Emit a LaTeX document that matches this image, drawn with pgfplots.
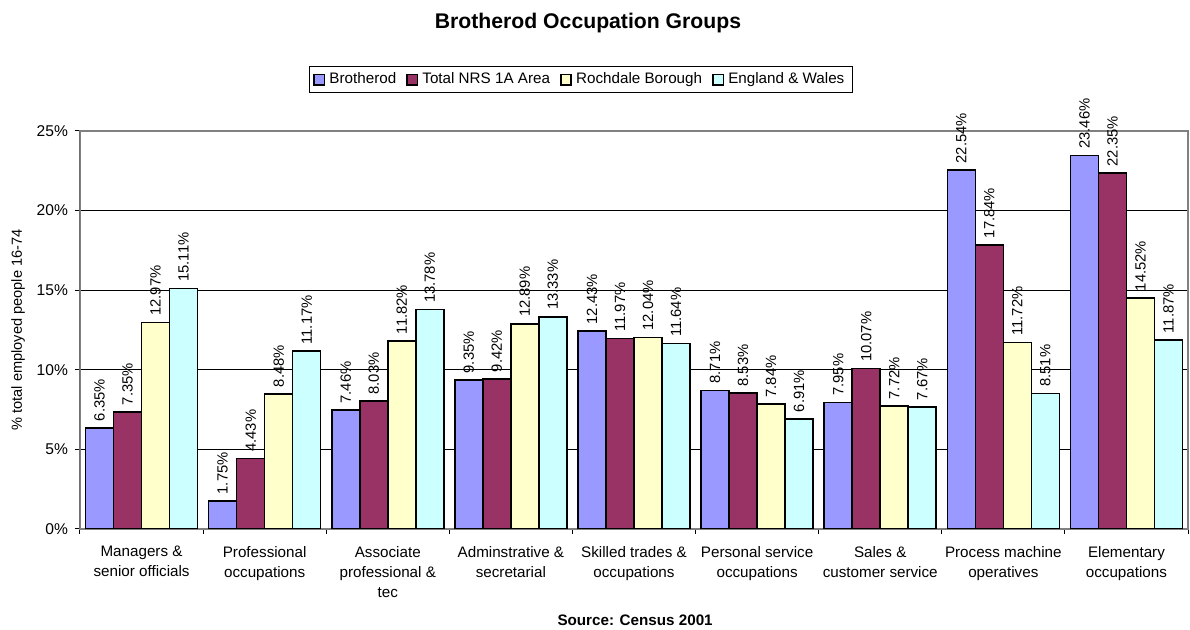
\documentclass[border=0pt]{standalone}
\usepackage{pgfplots}
\pgfplotsset{compat=1.18}
\usepackage{fontspec}
\setmainfont{Liberation Sans}
\definecolor{cA}{HTML}{9999FF}
\definecolor{cB}{HTML}{993366}
\definecolor{cC}{HTML}{FFFFCC}
\definecolor{cD}{HTML}{CCFFFF}
\begin{document}
\begin{tikzpicture}
\begin{axis}[
  scale only axis, width=554pt, height=199pt,
  ybar=0pt, bar width=14pt,
  xmin=-0.5, xmax=8.5, ymin=0, ymax=25,
  xtick={-0.5,0.5,1.5,2.5,3.5,4.5,5.5,6.5,7.5,8.5},
  x tick label as interval,
  xticklabels={Managers \&\\senior officials, Professional\\occupations, Associate\\professional \&\\tec, Adminstrative \&\\secretarial, Skilled trades \&\\occupations, Personal service\\occupations, Sales \&\\customer service, Process machine\\operatives, Elementary\\occupations},
  xticklabel style={align=center, font=\fontsize{7.6}{10}\selectfont, yshift=-2.5pt},
  ytick={0,5,10,15,20,25}, yticklabels={0\%,5\%,10\%,15\%,20\%,25\%},
  yticklabel style={font=\fontsize{7.8}{9}\selectfont},
  tick align=outside, major tick length=2.5pt,
  xtick pos=left, ytick pos=left,
  ymajorgrids, grid style={black, line width=0.5pt},
  axis line style={gray, line width=0.6pt},
  tick style={black, line width=0.5pt},
  /pgf/number format/assume math mode=true,
  nodes near coords={\pgfmathprintnumber[fixed,fixed zerofill,precision=2]{\pgfplotspointmeta}\%},
  every node near coord/.append style={rotate=90, anchor=west, font=\fontsize{7.4}{8}\selectfont, inner sep=3pt, text=black},
  title={Brotherod Occupation Groups},
  title style={at={(0.4585,1.241)}, anchor=center, font=\bfseries\fontsize{10.6}{12}\selectfont},
  ylabel={\% total employed people 16-74},
  ylabel style={at={(rel axis cs:-0.0559,0.5)}, anchor=center, font=\fontsize{7.3}{8}\selectfont},
  xlabel={Source: Census 2001},
  xlabel style={at={(rel axis cs:0.501,-0.2286)}, anchor=center, font=\bfseries\fontsize{7.6}{9}\selectfont},
  legend columns=4,
  legend style={at={(0.452,1.163)}, anchor=north, draw=black, line width=0.5pt, font=\fontsize{7.6}{8}\selectfont, inner xsep=2pt, inner ysep=1pt, /tikz/every even column/.append style={column sep=3pt}},
  legend image code/.code={\draw[#1, line width=0.9pt] (0pt,-2.6pt) rectangle (5.2pt,2.6pt);},
]
\addplot[fill=cA, draw=black, line width=0.8pt] coordinates {(0,6.35) (1,1.75) (2,7.46) (3,9.35) (4,12.43) (5,8.71) (6,7.95) (7,22.54) (8,23.46)};
\addplot[fill=cB, draw=black, line width=0.8pt] coordinates {(0,7.35) (1,4.43) (2,8.03) (3,9.42) (4,11.97) (5,8.53) (6,10.07) (7,17.84) (8,22.35)};
\addplot[fill=cC, draw=black, line width=0.8pt] coordinates {(0,12.97) (1,8.48) (2,11.82) (3,12.89) (4,12.04) (5,7.84) (6,7.72) (7,11.72) (8,14.52)};
\addplot[fill=cD, draw=black, line width=0.8pt] coordinates {(0,15.11) (1,11.17) (2,13.78) (3,13.33) (4,11.64) (5,6.91) (6,7.67) (7,8.51) (8,11.87)};
\legend{Brotherod, Total NRS 1A Area, Rochdale Borough, England \& Wales}
\draw[black, line width=0.5pt] (rel axis cs:0,0) -- (rel axis cs:0,1);
\coordinate (bl) at (rel axis cs:0,0);
\coordinate (tr) at (rel axis cs:1,1);
\end{axis}
\pgfresetboundingbox
\path ([shift={(-40pt,-50.5pt)}]bl) rectangle ([shift={(1pt,65.5pt)}]tr);
\end{tikzpicture}
\end{document}
